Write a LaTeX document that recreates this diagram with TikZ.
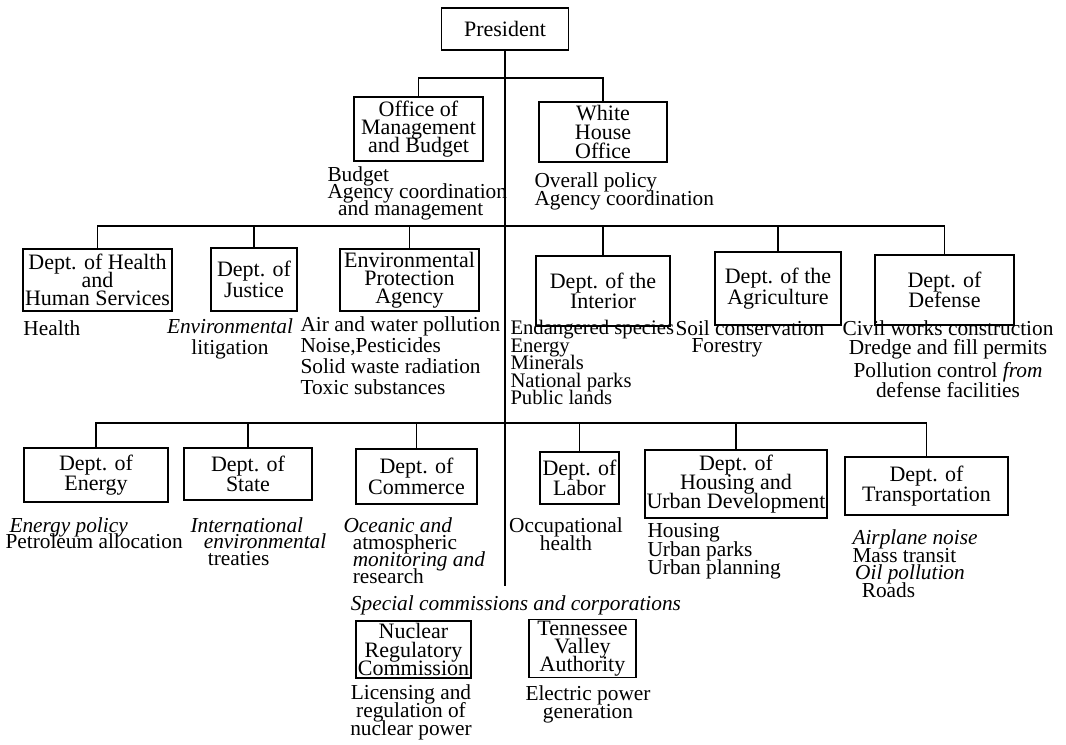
\documentclass[tikz,border=0pt]{standalone}
\usepackage{fontspec}
\setmainfont{Liberation Serif}
\newcommand{\nfont}[2]{\fontsize{#1}{#2}\selectfont\lineskiplimit=-20pt\lineskip=0pt}
\begin{document}
\tikzset{every picture/.style={line width=0.75pt}}
\tikzset{
  box/.style={draw, line width=1.1pt, align=center, inner sep=1pt, font=\nfont{16.5}{13.3}},
  twobox/.style={box, font=\nfont{16.5}{15.5}},
  note/.style={inner sep=0pt, align=left, anchor=north west, font=\nfont{16}{13}},
  cnote/.style={inner sep=0pt, align=center, anchor=north, font=\nfont{16}{13}},
  link/.style={line width=0.9pt}
}

\begin{tikzpicture}[x=0.75pt,y=0.75pt,yscale=-1,xscale=1]
\useasboundingbox (0,0) rectangle (1066,744);

%Shape: Rectangle [President]
\node[box, minimum width=95.25pt, minimum height=31.5pt] (pres) at (505,29) {President};
%Shape: Rectangle [Office of Management and Budget]
\node[box, minimum width=96.75pt, minimum height=48pt] (omb) at (418.5,129) {Office of\\Management\\and Budget};
%Shape: Rectangle [White House Office]
\node[box, font=\nfont{16.5}{14}, minimum width=96pt, minimum height=45pt] (who) at (603,132) {White\\House\\Office};

%Shape: Rectangle [second row]
\node[box, minimum width=111.75pt, minimum height=46.5pt] (hhs) at (97.5,280) {Dept. of Health\\and\\Human Services};
\node[twobox, minimum width=64.5pt, minimum height=47.25pt] (jus) at (254,279.5) {Dept. of\\Justice};
\node[box, minimum width=104.25pt, minimum height=46.5pt] (epa) at (409.5,280) {Environmental\\Protection\\Agency};
\node[twobox, minimum width=100.5pt, minimum height=52.5pt] (int) at (603,291) {Dept. of the\\Interior};
\node[twobox, minimum width=94.5pt, minimum height=54.75pt] (agr) at (778,288.5) {Dept. of the\\Agriculture};
\node[twobox, minimum width=104.25pt, minimum height=52.5pt] (def) at (944.5,290) {Dept. of\\Defense};

%Shape: Rectangle [third row]
\node[twobox, minimum width=108pt, minimum height=40.5pt] (ene) at (96,475) {Dept. of\\Energy};
\node[twobox, minimum width=96pt, minimum height=39pt] (sta) at (248,474) {Dept. of\\State};
\node[twobox, minimum width=90.75pt, minimum height=41.25pt] (com) at (416.5,476.5) {Dept. of\\Commerce};
\node[twobox, minimum width=59.25pt, minimum height=39pt] (lab) at (579.5,478) {Dept. of\\Labor};
\node[box, font=\nfont{16.5}{14}, minimum width=136.5pt, minimum height=51pt] (hud) at (736,484) {Dept. of\\Housing and\\Urban Development};
\node[twobox, font=\nfont{16.5}{15}, minimum width=122.25pt, minimum height=43.5pt] (tra) at (926.5,486) {Dept. of\\Transportation};

%Shape: Rectangle [commissions]
\node[box, font=\nfont{16.5}{13.7}, minimum width=86.25pt, minimum height=42.75pt] (nrc) at (413.5,649.5) {Nuclear\\Regulatory\\Commission};
\node[box, font=\nfont{16.5}{13.7}, minimum width=80.25pt, minimum height=42.75pt] (tva) at (582.5,648.5) {Tennessee\\Valley\\Authority};

%Straight Lines [trunk and buses]
\coordinate (b1) at (505,78);
\coordinate (b2) at (505,226);
\coordinate (b3) at (505,423);
\coordinate (tend) at (505,586);
\draw[link] (pres.south) -- (tend);
\draw[link] (omb.north) |- (b1) -| (who.north);
\draw[link] (hhs.north) |- (b2) -| (def.north);
\foreach \n in {jus,epa,int,agr} \draw[link] (\n.north) -- (\n.north |- b2);
\draw[link] (ene.north) |- (b3) -| (tra.north);
\foreach \n in {sta,com,lab,hud} \draw[link] (\n.north) -- (\n.north |- b3);

% Text Node
\node[note] (ombn) at (327,166) {Budget\\Agency coordination\\\hspace*{8pt}and management};
% Text Node
\node[note, font=\nfont{16}{13.5}] (whon) at (534,172) {Overall policy\\Agency coordination};
% Text Node
\node[note] (hhsn) at (23,320) {Health};
% Text Node
\node[cnote, font=\nfont{16}{16}] (jusn) at (230,318) {\textit{Environmental}\\litigation};
% Text Node
\node[note, font=\nfont{16}{15.75}] (epan) at (300,316) {Air and water pollution\\Noise,Pesticides\\Solid waste radiation\\Toxic substances};
% Text Node
\node[note, font=\nfont{15.5}{13.1}] (intn) at (510,320) {Endangered species\\Energy\\Minerals\\National parks\\Public lands};
% Text Node
\node[note] (agrn) at (675,320) {Soil conservation\\\hspace*{12pt}Forestry};
% Text Node
\node[cnote, font=\nfont{16}{14.5}] (defn) at (948,320) {Civil works construction\\Dredge and fill permits\\[3pt]Pollution control \textit{from}\\defense facilities};

% Text Node
\node[note, font=\nfont{16}{12}] (enen) at (5,517) {\hspace*{3pt}\textit{Energy policy}\\Petroleum allocation};
% Text Node
\node[note, font=\nfont{16}{12.5}] (stan) at (190,517) {\textit{International}\\\hspace*{10pt}\textit{environmental}\\\hspace*{13pt}treaties};
% Text Node
\node[note, font=\nfont{16}{12.75}] (comn) at (343,517) {\textit{Oceanic and}\\\hspace*{7pt}atmospheric\\\hspace*{7pt}\textit{monitoring and}\\\hspace*{7pt}research};
% Text Node
\node[cnote, font=\nfont{16}{13.5}] (labn) at (566,517) {Occupational\\health};
% Text Node
\node[note, font=\nfont{16}{14}] (hudn) at (647,523) {Housing\\Urban parks\\Urban planning};
% Text Node
\node[note, font=\nfont{16}{13.3}] (tran) at (852,529) {\textit{Airplane noise}\\Mass transit\\\hspace*{2pt}\textit{Oil pollution}\\\hspace*{7pt}Roads};

% Text Node
\node[cnote] (spec) at (516,595) {\textit{Special commissions and corporations}};
% Text Node
\node[cnote, font=\nfont{16}{13.5}] (nrcn) at (411,684) {Licensing and\\regulation of\\nuclear power};
% Text Node
\node[cnote, font=\nfont{16}{14}] (tvan) at (588,685) {Electric power\\generation};

\end{tikzpicture}
\end{document}
